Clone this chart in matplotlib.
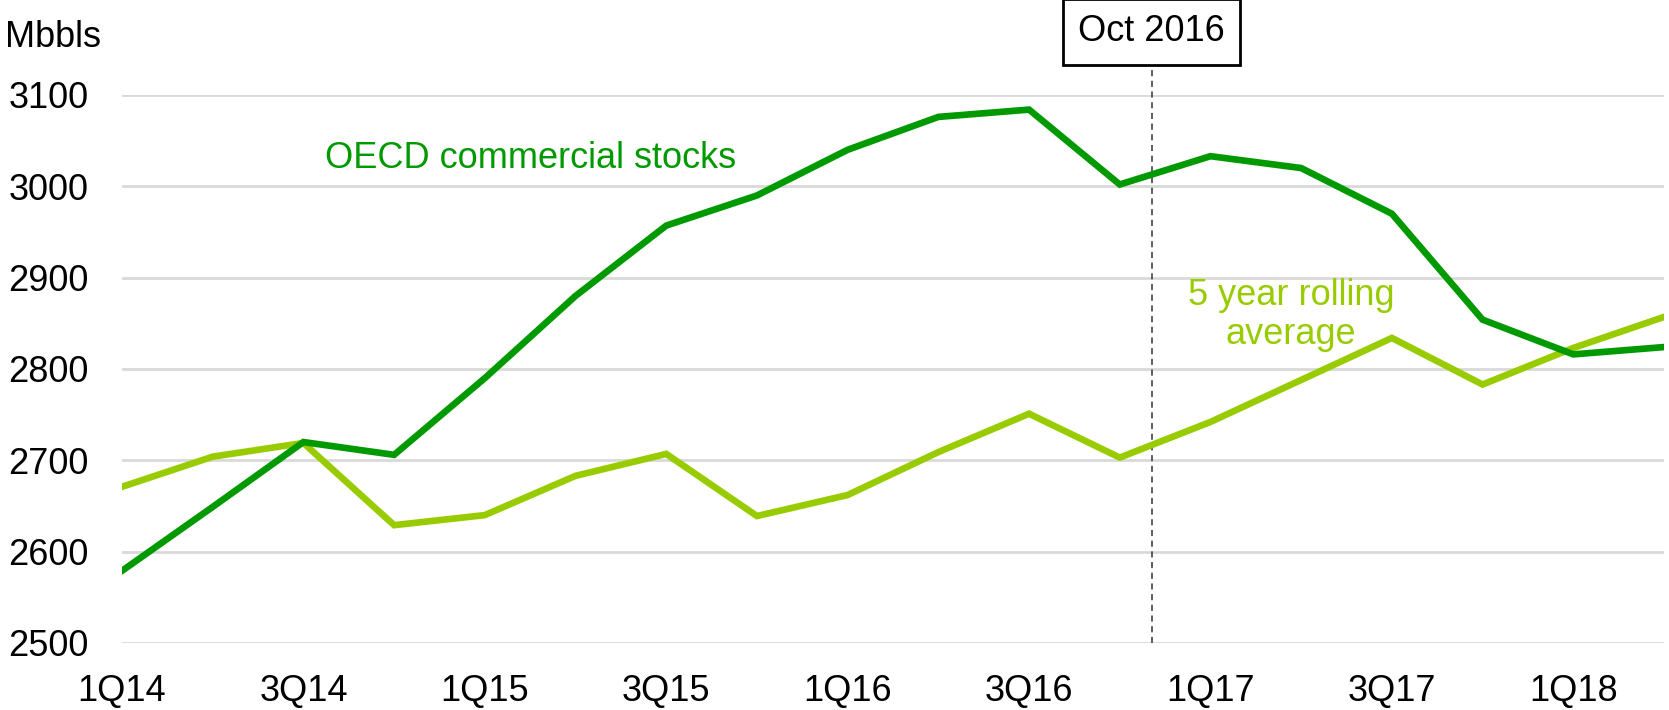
import matplotlib
matplotlib.use("Agg")
import matplotlib.pyplot as plt

plt.rcParams["font.family"] = ["Liberation Sans", "DejaVu Sans"]

quarters = ["1Q14", "2Q14", "3Q14", "4Q14", "1Q15", "2Q15", "3Q15", "4Q15", "1Q16",
            "2Q16", "3Q16", "4Q16", "1Q17", "2Q17", "3Q17", "4Q17", "1Q18", "2Q18"]
oecd_stocks = [2579, 2649, 2720, 2706, 2790, 2880, 2957, 2990, 3040,
               3076, 3084, 3002, 3033, 3020, 2970, 2854, 2816, 2824]
rolling_5y = [2671, 2704, 2719, 2629, 2640, 2683, 2707, 2639, 2662,
              2709, 2751, 2703, 2742, 2788, 2834, 2783, 2823, 2857]
yticks = [2500, 2600, 2700, 2800, 2900, 3000, 3100]
oct_2016 = 11.35  # position between 4Q16 and 1Q17

dark = "#009a00"
light = "#99cc00"
fs = 26

fig = plt.figure(figsize=(16.69, 7.10), dpi=100)
ax = fig.add_axes([0.0731, 0.0944, 0.9239, 0.7718])

x = list(range(len(quarters)))
ax.plot(x, rolling_5y, color=light, lw=4.8, solid_joinstyle="miter", zorder=3)
ax.plot(x, oecd_stocks, color=dark, lw=4.8, solid_joinstyle="miter", zorder=4)

ax.set_xlim(0, len(quarters) - 1)
ax.set_ylim(2500, 3100)
ax.set_yticks(yticks)
ax.set_yticklabels([str(v) for v in yticks], fontsize=fs)
ax.set_xticks(x[::2])
ax.set_xticklabels(quarters[::2], fontsize=fs)
ax.tick_params(axis="both", length=0)
ax.tick_params(axis="y", pad=24)
ax.tick_params(axis="x", pad=22)
ax.grid(axis="y", color="#d9d9d9", lw=2)
ax.set_axisbelow(True)
for s in ax.spines.values():
    s.set_visible(False)

ax.plot([oct_2016, oct_2016], [2500, 3135], color="#333333", lw=1.1,
        ls=(0, (4, 3)), clip_on=False, zorder=2)
ax.text(oct_2016, 3169, "Oct 2016", fontsize=fs, ha="center", va="center",
        bbox=dict(boxstyle="square,pad=0.42", fc="white", ec="black", lw=2))

ax.text(2.24, 3030, "OECD commercial stocks", color=dark, fontsize=fs,
        ha="left", va="center")
ax.text(12.89, 2859, "5 year rolling\naverage", color=light, fontsize=fs,
        ha="center", va="center", linespacing=1.15)

fig.text(0.003, 0.947, "Mbbls", fontsize=fs, ha="left", va="center")

fig.savefig("out.png", dpi=100)
